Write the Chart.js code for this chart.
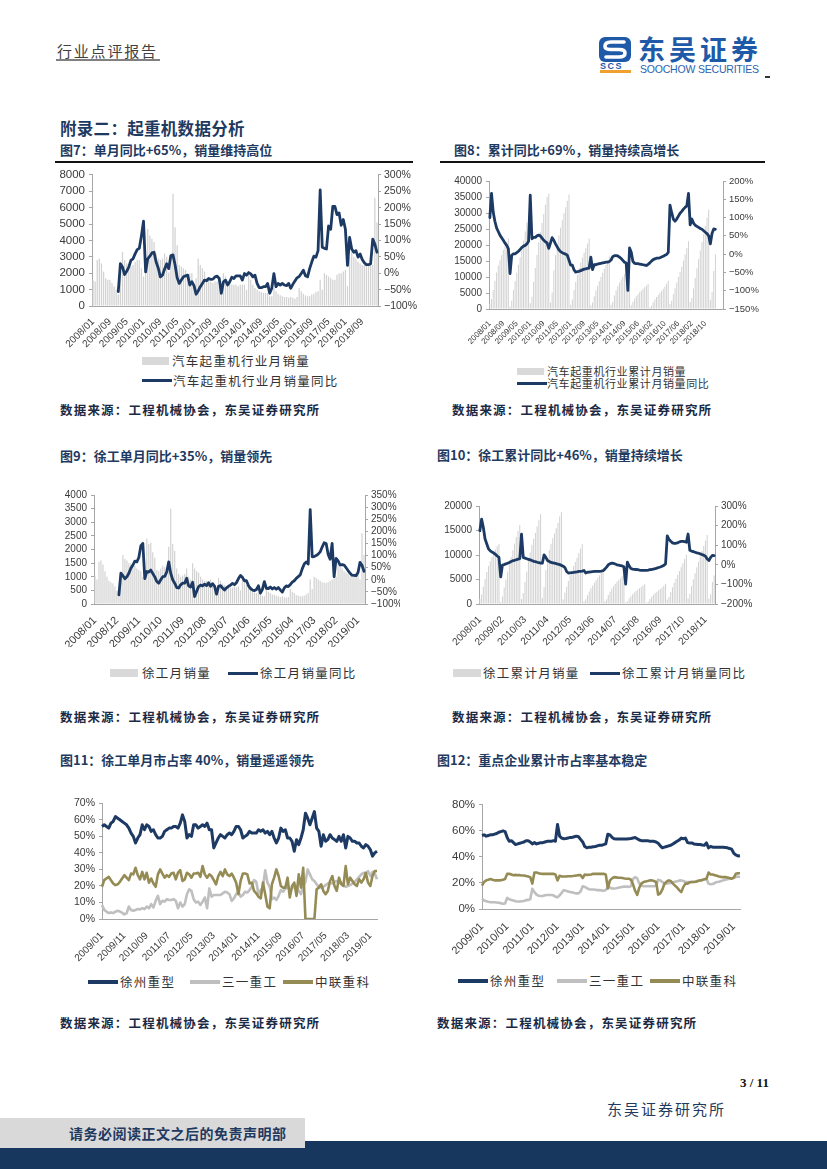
<!DOCTYPE html>
<html><head><meta charset="utf-8">
<script src="https://cdn.jsdelivr.net/npm/chart.js@4.4.1/dist/chart.umd.min.js"></script>
<style>
body{margin:0;background:#fff;}
#page{position:relative;width:827px;height:1169px;overflow:hidden;font-family:"Noto Sans CJK SC",sans-serif;background:#fff;}
.abs{position:absolute;white-space:nowrap;}
.ftitle{font-size:13px;font-weight:700;color:#1f3a60;line-height:16px;}
.src{font-size:12.5px;font-weight:700;color:#1b2a44;line-height:16px;letter-spacing:1.2px;}
.leg{font-size:12.5px;color:#333;line-height:16px;letter-spacing:1.3px;}
.leg8{font-size:11px;color:#333;line-height:14px;letter-spacing:0.6px;}
.swb{position:absolute;background:#d9d9d9;}
.swl{position:absolute;height:3px;}
canvas{position:absolute;}
</style></head>
<body><div id="page">

<div class="abs" style="left:57px;top:41px;font-size:15px;color:#404040;letter-spacing:1.8px;line-height:20px;">行业点评报告</div>
<div class="abs" style="left:56px;top:59px;width:104px;height:2px;background:#808080;"></div>

<svg class="abs" style="left:599px;top:37px" width="32" height="25" viewBox="0 0 32 25">
<rect x="0" y="0" width="32" height="25" rx="6" fill="#1e5aa8"/>
<path d="M25 5 H12 Q6 5 6 9.5 Q6 12.5 12 12.5 H20 Q26 12.5 26 16 Q26 20 20 20 H7" stroke="#fff" stroke-width="3.6" fill="none" stroke-linecap="round"/>
</svg>
<div class="abs" style="left:600px;top:61px;font:bold 9px 'Liberation Sans',Arial,sans-serif;color:#1e5aa8;letter-spacing:1.5px;line-height:10px;">SCS</div>
<div class="abs" style="left:600px;top:70px;width:31px;height:3px;background:#f0a030;"></div>
<div class="abs" style="left:638px;top:33px;font-size:27px;font-weight:700;color:#1e5aa8;letter-spacing:4px;line-height:32px;">东吴证券</div>
<div class="abs" style="left:640px;top:63px;font:10.5px 'Liberation Sans',Arial,sans-serif;color:#2b63ad;letter-spacing:-0.2px;line-height:12px;">SOOCHOW SECURITIES</div>
<div class="abs" style="left:765px;top:76px;width:5px;height:1.5px;background:#333;"></div>

<div class="abs" style="left:60px;top:117px;font-size:16.5px;font-weight:700;color:#1f3a60;line-height:22px;letter-spacing:0.3px;">附录二：起重机数据分析</div>

<div class="abs ftitle" style="left:60px;top:142px;">图7：单月同比+65%，销量维持高位</div>
<div class="abs ftitle" style="left:454px;top:142px;">图8：累计同比+69%，销量持续高增长</div>
<div class="abs" style="left:55px;top:161px;width:358px;height:2px;background:#111;"></div>
<div class="abs" style="left:440px;top:161px;width:325px;height:2px;background:#111;"></div>

<canvas id="c7" width="382" height="186" style="left:40px;top:164px;"></canvas>
<canvas id="c8" width="330" height="176" style="left:440px;top:171px;"></canvas>

<div class="swb" style="left:142px;top:357px;width:27px;height:8px;"></div>
<div class="abs leg" style="left:172px;top:353px;">汽车起重机行业月销量</div>
<div class="swl" style="left:142px;top:379px;width:30px;background:#1c3a63;"></div>
<div class="abs leg" style="left:173px;top:373px;">汽车起重机行业月销量同比</div>

<div class="swb" style="left:517px;top:368px;width:27px;height:7px;"></div>
<div class="abs leg8" style="left:547px;top:364px;">汽车起重机行业累计月销量</div>
<div class="swl" style="left:517px;top:382px;width:30px;background:#1c3a63;"></div>
<div class="abs leg8" style="left:547px;top:376px;">汽车起重机行业累计月销量同比</div>

<div class="abs src" style="left:60px;top:402px;">数据来源：工程机械协会，东吴证券研究所</div>
<div class="abs src" style="left:452px;top:402px;">数据来源：工程机械协会，东吴证券研究所</div>

<div class="abs ftitle" style="left:60px;top:448px;">图9：徐工单月同比+35%，销量领先</div>
<div class="abs ftitle" style="left:437px;top:447px;">图10：徐工累计同比+46%，销量持续增长</div>

<canvas id="c9" width="360" height="162" style="left:40px;top:485px;"></canvas>
<canvas id="c10" width="345" height="152" style="left:425px;top:496px;"></canvas>

<div class="swb" style="left:110px;top:669px;width:28px;height:8px;"></div>
<div class="abs leg" style="left:142px;top:665px;">徐工月销量</div>
<div class="swl" style="left:228px;top:672px;width:30px;background:#1c3a63;"></div>
<div class="abs leg" style="left:260px;top:665px;">徐工月销量同比</div>

<div class="swb" style="left:453px;top:669px;width:28px;height:8px;"></div>
<div class="abs leg" style="left:483px;top:665px;">徐工累计月销量</div>
<div class="swl" style="left:590px;top:672px;width:30px;background:#1c3a63;"></div>
<div class="abs leg" style="left:622px;top:665px;">徐工累计月销量同比</div>

<div class="abs src" style="left:60px;top:709px;">数据来源：工程机械协会，东吴证券研究所</div>
<div class="abs src" style="left:452px;top:709px;">数据来源：工程机械协会，东吴证券研究所</div>

<div class="abs ftitle" style="left:60px;top:752px;">图11：徐工单月市占率 40%，销量遥遥领先</div>
<div class="abs ftitle" style="left:437px;top:752px;">图12：重点企业累计市占率基本稳定</div>

<canvas id="c11" width="345" height="170" style="left:40px;top:793px;"></canvas>
<canvas id="c12" width="320" height="160" style="left:430px;top:794px;"></canvas>

<div class="swl" style="left:88px;top:980px;width:30px;height:3.5px;background:#1c3a63;"></div>
<div class="abs leg" style="left:120px;top:974px;">徐州重型</div>
<div class="swl" style="left:190px;top:980px;width:30px;height:3.5px;background:#bfbfbf;"></div>
<div class="abs leg" style="left:222px;top:974px;">三一重工</div>
<div class="swl" style="left:283px;top:980px;width:30px;height:3.5px;background:#958b55;"></div>
<div class="abs leg" style="left:315px;top:974px;">中联重科</div>

<div class="swl" style="left:458px;top:979px;width:30px;height:3.5px;background:#1c3a63;"></div>
<div class="abs leg" style="left:490px;top:973px;">徐州重型</div>
<div class="swl" style="left:557px;top:979px;width:30px;height:3.5px;background:#bfbfbf;"></div>
<div class="abs leg" style="left:589px;top:973px;">三一重工</div>
<div class="swl" style="left:650px;top:979px;width:30px;height:3.5px;background:#958b55;"></div>
<div class="abs leg" style="left:682px;top:973px;">中联重科</div>

<div class="abs src" style="left:60px;top:1015px;">数据来源：工程机械协会，东吴证券研究所</div>
<div class="abs src" style="left:437px;top:1015px;">数据来源：工程机械协会，东吴证券研究所</div>

<div class="abs" style="left:740px;top:1075px;font:bold 13px 'Liberation Serif',serif;color:#111;line-height:16px;">3 / 11</div>
<div class="abs" style="left:607px;top:1099px;font-size:15px;color:#1f3a60;letter-spacing:2px;line-height:20px;">东吴证券研究所</div>
<div class="abs" style="left:0;top:1141px;width:827px;height:28px;background:#17375e;"></div>
<div class="abs" style="left:0;top:1118px;width:305px;height:30px;background:#d9d9d9;"></div>
<div class="abs" style="left:69px;top:1124px;font-size:14px;font-weight:700;color:#1f3a60;letter-spacing:0.5px;line-height:18px;">请务必阅读正文之后的免责声明部</div>

</div>
<script>
// ---------- DATA ----------
// Fig 7: monthly truck-crane sales (2008/01 - 2019/04) and YoY % (from 2009/01)
const C7_SALES = [
 1600,1500,2800,2900,2600,2100,1700,1600,1600,1400,1200,1000,
 700,1900,3300,2800,2600,2500,2400,2500,2700,2800,2800,2300,
 1800,2000,4700,4300,4100,3900,3200,2900,2800,2900,3200,3000,
 2050,3100,6850,4800,3700,2500,2400,2300,2200,1900,2000,2000,
 1300,1700,2900,2500,2300,2100,1700,1600,1500,1400,1500,1500,
 1200,800,2000,1800,1500,1400,1300,1300,1300,1200,1300,1300,
 1300,1000,1900,1600,1300,1100,1000,900,850,800,800,800,
 600,600,1100,900,750,650,600,550,550,500,550,500,
 450,550,1100,900,750,650,600,600,700,750,850,900,
 1600,1000,2000,1900,1800,1700,1600,1600,1900,2000,2000,2100,
 2200,1200,3000,3300,3000,2900,2700,2600,2500,2500,2600,2600,
 2800,2500,6600,5100];
const C7_YOY = [
 -56,29,19,-4,6,19,39,44,59,72,76,114,
 159,4,44,52,62,64,34,16,-11,-6,12,29,
 14,54,56,26,-14,-31,-21,-11,-8,-6,-36,-26,
 -38,-64,-54,-41,-31,-21,-23,-16,-19,-18,-11,-9,
 -16,-61,-26,-21,-36,-26,-12,-16,-8,-8,-8,-21,
 -1,-6,2,-2,-11,-6,-31,-44,-44,-41,-41,-31,
 -61,-46,-1,-41,-31,-36,-31,-36,-38,-31,-46,-34,
 -24,-14,-10,-1,9,-8,-11,14,34,52,49,69,
 254,79,76,74,144,134,204,204,179,184,146,164,
 134,24,109,74,64,69,49,59,42,32,26,26,
 29,104,89,64];

// Fig 8: cumulative truck-crane sales and cumulative YoY % (2015/01 not reported)
const C8_CUM = [
 1600,3100,5900,8800,11400,13500,15200,16800,18400,19800,21000,22000,
 700,2600,5900,8700,11300,13800,16200,18700,21400,24200,27000,29300,
 1800,3800,8500,12800,16900,20800,24000,26900,29700,32600,35000,36000,
 2050,5150,12000,16800,20500,23000,25400,27700,29900,31800,33800,35800,
 1300,3000,5900,8400,10700,12800,14500,16100,17600,19000,20500,22000,
 1200,2000,4000,5800,7300,8700,10000,11300,12600,13800,15100,16400,
 1300,2300,4200,5800,7100,8200,9200,10100,10950,11750,12550,13350,
 1200,2300,3200,3950,4600,5200,5750,6300,6800,7350,7850,
 450,1000,2100,3000,3750,4400,5000,5600,6300,7050,7900,8800,
 1600,2600,4600,6500,8300,10000,11600,13200,15100,17100,19100,21200,
 2200,3400,6400,9700,12700,15600,18300,20900,23400,25900,28500,31100,
 2800,5300,11900,17000];
const C8_YOY = [
 100,166,115,90,72,62,52,45,38,30,24,15,
 -53,-3,1,1,4,8,13,18,22,24,28,35,
 161,42,46,46,50,52,50,44,38,34,31,16,
 30,45,38,28,20,12,7,4,2,0,-3,-16,
 -30,-30,-43,-49,-48,-47,-45,-43,-41,-40,-39,-38,
 -8,-42,-29,-29,-27,-26,-25,-24,-23,-22,-22,-20,
 -16,-7,-4,-4,-5,-8,-12,-17,-22,-24,-99,17,
 5,-20,-25,-26,-26,-27,-28,-29,-30,-31,-28,-24,
 -19,-15,-13,-11,-11,-10,-8,-6,-3,-1,5,134,
 114,96,90,96,104,112,117,123,128,132,166,80,
 96,85,79,76,73,70,68,64,60,56,50,28,
 57,69,68];

// Fig 9: XCMG monthly sales and YoY % (from 2009/01)
const C9_SALES = [
 1050,900,1550,1600,1450,1200,1000,850,800,750,650,500,
 400,1150,1800,1650,1600,1500,1500,1350,1400,1300,1250,1200,
 1000,1200,2400,2200,2250,1900,1700,1250,1200,1300,1400,1350,
 1300,2100,3500,2200,1950,1300,1100,1000,1050,1100,1300,1000,
 900,1500,1300,1200,1150,1000,900,850,850,800,900,800,
 650,450,950,850,750,700,650,600,600,600,650,600,
 650,500,950,800,700,600,550,480,430,400,430,400,
 300,280,550,450,400,350,330,300,280,250,280,250,
 230,260,550,450,400,330,300,280,280,300,350,400,
 900,550,1000,950,900,850,800,780,780,800,850,900,
 1100,1000,1500,1400,1300,1200,1150,1100,1050,1050,1100,1150,
 1100,900,2600,1800];
const C9_YOY = [
 -62,27,17,4,12,27,48,60,77,74,92,140,
 150,5,34,32,40,26,12,-7,-14,0,13,14,
 32,74,27,0,-14,-32,-34,-21,-14,-14,6,-25,
 -30,-10,-69,-48,-28,-22,-25,-18,-24,-12,-27,-16,
 -26,-59,-27,-24,-34,-42,-33,-27,-22,-15,-20,-12,
 5,18,10,-4,-4,-24,-36,-42,-45,-40,-25,-55,
 -40,-8,-35,-36,-30,-38,-32,-39,-32,-42,-51,-34,
 -25,-28,-20,-10,-4,6,13,20,45,65,73,65,
 290,95,96,100,106,115,135,153,150,105,85,150,
 13,88,78,61,63,61,50,38,27,19,18,17,
 30,72,60,35];

// Fig 10: XCMG cumulative sales and cumulative YoY %
const C10_CUM = [
 1050,1950,3500,5100,6550,7750,8750,9600,10400,11150,11800,12300,
 400,1550,3350,5000,6600,8100,9600,10950,12350,13650,14900,16100,
 1000,2200,4500,6600,8700,10500,12100,13300,14500,15800,17100,18300,
 1300,3400,6900,9100,11000,12300,13400,14400,15450,16550,17850,18800,
 900,2300,3500,4700,5800,6800,7700,8550,9400,10400,11300,12200,
 550,950,1800,2550,3200,3800,4350,4850,5350,5850,6400,6900,
 550,970,1820,2520,3120,3640,4120,4540,4920,5270,5650,6000,
 300,580,1130,1580,1980,2330,2660,2960,3240,3490,3770,4020,
 230,490,1040,1490,1890,2220,2520,2800,3080,3380,3730,4130,
 900,1450,2450,3400,4300,5150,5950,6730,7510,8310,9160,10060,
 1100,2100,3600,5000,6300,7500,8650,9750,10800,11850,12950,14100,
 1100,2000,4500,5800];
const C10_YOY = [
 174,233,190,132,106,81,71,65,60,53,45,38,
 -62,-1,1,5,8,12,17,21,23,26,29,31,
 157,38,34,31,28,25,22,18,16,13,11,9,
 8,51,38,22,17,12,10,8,6,3,1,-3,
 -7,-14,-34,-42,-41,-40,-39,-37,-36,-34,-33,-32,
 -29,-42,-38,-37,-36,-35,-34,-34,-34,-33,-32,-30,
 -22,-12,0,5,9,7,4,0,-2,-4,-6,-10,
 -99,14,-5,-19,-22,-23,-24,-25,-27,-28,-28,-28,
 -28,-27,-25,-24,-22,-20,-17,-14,-11,-7,-3,4,
 148,130,120,112,109,110,112,117,119,120,118,115,
 157,74,70,67,64,61,59,56,52,49,44,30,
 22,38,48,47];

// Fig 11: monthly market share % (2009/01 - 2019/04)
const C11_XCMG = [
 56,57,56,55,58,59,62,61,60,59,58,57,
 55,52,50,46,49,51,57,54,57,56,53,54,
 51,49,49,50,53,54,55,55,56,56,55,58,
 63,59,49,51,50,57,57,55,56,57,56,58,
 54,54,43,46,49,51,50,49,51,52,51,53,
 56,56,54,49,50,51,53,52,52,52,54,53,
 54,52,53,51,53,49,46,49,55,53,54,49,
 49,47,41,48,45,49,54,64,61,57,61,65,
 55,53,44,51,47,48,51,49,48,47,50,47,
 51,43,50,49,47,47,46,46,44,43,45,44,
 42,38,40,41];
const C11_SANY = [
 8.5,5.5,4.5,3.6,4,3.6,4.4,5,4.5,3.8,2.8,3.5,
 7.5,5.5,5,5.5,6,5.8,6.5,6,7.5,6.5,9,7,
 11,14,9,11,10.5,12,11.5,11.5,12,11,6.5,10,
 7.5,9,15,18,17,12,10,10.5,8.5,10.5,13,6.5,
 18.5,13.5,14.5,14.5,14.5,14.5,15.5,16.5,16,15,11,12.5,
 15,16.5,13.5,14.5,16.5,16,17.5,19.5,23.5,22.5,15,17.5,
 19,29.5,22,19.5,12,13,11.5,14,17.5,16.5,18.5,19,
 17.5,18.5,20,20,17,15,20,22.5,30,27,24,23,
 21,19.5,19,19.5,20.5,21.5,22,21.5,22.5,23,22,22,
 20.5,19.5,20,20.5,21.5,22.5,24,25.5,27,28,27.5,29,
 26,28.5,27.5,24];
const C11_ZOOM = [
 19.5,23.5,24.5,25.5,23.5,21.5,20.5,21,22.5,24.5,26.5,25,
 23.5,27.5,27,31,26.5,24,28.5,24,28,22,24.5,21.5,
 19.5,27,30,27.5,25,26.5,25.5,27.5,28,24,28,29.5,
 23,24,28,27,25,27.5,27.5,28,25.5,32,27,25,
 27,26,23.5,21,26,28.5,26,30,27,26,27.5,25,
 22,15,23,27.5,27.5,27,21.5,22,17,15.5,13.5,12.5,
 22,15,7.5,6.5,21,25,30,26,20,19,19,25,
 13,20,22,14,27,19,31,0,0,0,0,0,
 18,19,21,17,15,17,23,26,20,17,25,21,
 20,32,21,25,23,21,20,24,22,24,28,22,
 20,26,29,29];

// Fig 12: cumulative market share %
const C12_XCMG = [
 56.5,57,56,56.5,57,57,57.5,58,59,59.5,60,59.5,
 55,52,52.5,51,49.5,50,50.5,51,51.5,52.5,52.5,51.5,
 50,51,50,50.5,51,51,51.5,52,52,52,52.5,52,
 65,56,54.5,54,54.2,54.5,55,55,55.5,56,55.5,53.5,
 51.5,48,47,47.5,47.5,47.8,48,48.5,49,49,49.5,50,
 57.5,57,55,54,53.8,53.8,53.8,53.8,53.8,53.8,54,54.2,
 54.5,55,54,53,52.5,52.5,52.5,52.5,52,52,52,51.5,
 50.5,48.5,47,47.5,48,48.5,49,50,51,52,53,54.5,
 54,54.5,51,50.8,50.8,50,49.8,49.5,49.5,49.2,49,50.8,
 47,48,47.5,47.5,47.5,47.5,47.5,47.5,47.3,47,46.5,46,
 43,41.5,40.8,41];
const C12_SANY = [
 8,6.5,6,5.5,5.2,5.2,5.2,5,4.8,4.5,4,4.2,
 8.5,7.5,7,6.5,6,5.8,5.8,6,6.2,6.8,7,7.5,
 15.5,13,11,10.2,10,10,10.5,10.8,10.8,10.8,10.5,9.5,
 9,10.5,12.5,14.5,14,13.5,13,12.8,12.3,12,12,13.5,
 17.5,17,16,15.2,15,15,14.8,14.5,14.5,14.3,14,14.5,
 17,16.5,15.8,15.8,16,16.3,16.8,17,17.3,17.2,17,17.5,
 23,24.5,23.5,19.5,18,17.5,17.5,17.5,17.5,17.5,17.5,18,
 22.5,22,20.8,19.5,19.5,19.8,20,20.5,21,21.3,21.8,22,
 21.5,20.8,20.8,20.8,20.8,21,21.3,21.8,22,22.3,22.8,23.2,
 19.5,19,19.2,20,20.8,21,21.5,22,22.5,22.8,23.2,23.5,
 24,24.5,25,24.5];
const C12_ZOOM = [
 18,20.8,22,22.5,23,22.5,22,22,22,22.2,22.5,23,
 27,27,26.5,26,26.2,26,26,25.8,25.8,25.3,25,24.5,
 19.5,28,28,27.5,27.2,27,27,27,27,27,27,26.5,
 22,25.5,25,25,25,25.2,25.2,25.3,25.5,25.8,26,26,
 23.8,26.5,26.2,26.3,26.5,27,27,27,27,27,27,26.5,
 15.8,22,23.5,24.5,24.3,24,24,23.8,23.5,23.3,23.3,22.5,
 19,14,10.8,16.5,19.5,20.8,21.2,21.5,22,22,21.5,20.8,
 11,12,15,19.5,21,22,21.5,19.5,18,16.5,14.5,13,
 17,19.5,19.5,20.5,20.8,20.8,21,21.5,22,22.2,22.8,23.2,
 28,26.5,26.5,26,25.5,25,24.7,24.5,24.5,24.2,23.8,23.3,
 24,27,27.5,27.5];

// ---------- CATEGORIES ----------
function months(a, b, skip) {
  skip = skip || [];
  let [y, m] = a.split('/').map(Number);
  const [ye, me] = b.split('/').map(Number);
  const out = [];
  while (y < ye || (y === ye && m <= me)) {
    const s = y + '/' + String(m).padStart(2, '0');
    if (!skip.includes(s)) out.push(s);
    m++; if (m > 12) { m = 1; y++; }
  }
  return out;
}
const C7_LABELS = months('2008/01', '2019/04');
const C8_LABELS = months('2008/01', '2019/04', ['2015/01']).concat(['', '', '', '']);
const C9_LABELS = months('2008/01', '2019/04');
const C10_LABELS = months('2008/01', '2019/04');
const C11_LABELS = months('2009/01', '2019/04');
const C12_LABELS = months('2009/01', '2019/04');

// ---------- STYLE ----------
const NAVY = '#1c3a63', BAR = '#d2d2d2', GRAYL = '#bfbfbf', OLIVE = '#958b55', AX = '#a6a6a6', TXT = '#3a3a3a';
Chart.defaults.font.family = "'Liberation Sans', Arial, sans-serif";
Chart.defaults.color = TXT;
const pct = v => (v < 0 ? '\u2212' + Math.abs(v) : v) + '%';

function dual(id, o) {
  const yoy = o.lead ? Array(o.lead).fill(null).concat(o.line) : o.line;
  new Chart(document.getElementById(id), {
    type: 'bar',
    data: { labels: o.labels, datasets: [
      { type: 'line', data: yoy, yAxisID: 'y1', borderColor: NAVY, borderWidth: 2.8, pointRadius: 0, tension: 0, order: 0, borderJoinStyle: 'round', borderCapStyle: 'round' },
      { type: 'bar', data: o.bars, yAxisID: 'y', backgroundColor: BAR, barPercentage: 0.6, categoryPercentage: 1, order: 1 }
    ]},
    options: {
      responsive: false, animation: false, events: [],
      layout: { padding: { top: o.top, left: 0, right: 0, bottom: 0 } },
      plugins: { legend: { display: false }, tooltip: { enabled: false } },
      scales: {
        x: { grid: { display: false }, border: { display: true, color: AX },
             ticks: { autoSkip: false, minRotation: 45, maxRotation: 45, padding: 2, font: { size: o.fx }, color: TXT,
                      callback: (v, i) => (i % o.every === 0 && o.labels[i]) ? o.labels[i] : null },
             afterFit: s => { s.height = o.bh; } },
        y: { position: 'left', min: o.lmin, max: o.lmax,
             ticks: { autoSkip: false, stepSize: o.lstep, padding: 4, font: { size: o.fy }, color: TXT, callback: v => String(v) },
             grid: { drawOnChartArea: false, drawTicks: true, tickLength: 3, color: AX },
             border: { display: true, color: AX },
             afterFit: s => { s.width = o.lw; } },
        y1: { position: 'right', min: o.rmin, max: o.rmax,
             ticks: { autoSkip: false, stepSize: o.rstep, padding: 3, font: { size: o.fr }, color: TXT, callback: pct },
             grid: { drawOnChartArea: false, drawTicks: true, tickLength: 3, color: AX },
             border: { display: true, color: AX },
             afterFit: s => { s.width = o.rw; } }
      }
    }
  });
}

function share(id, o) {
  new Chart(document.getElementById(id), {
    type: 'line',
    data: { labels: o.labels, datasets: [
      { data: o.a, borderColor: NAVY, borderWidth: 3, pointRadius: 0, tension: 0, order: 2, borderJoinStyle: 'round' },
      { data: o.b, borderColor: GRAYL, borderWidth: 2.6, pointRadius: 0, tension: 0, order: 1, borderJoinStyle: 'round' },
      { data: o.c, borderColor: OLIVE, borderWidth: 2.6, pointRadius: 0, tension: 0, order: 0, borderJoinStyle: 'round' }
    ]},
    options: {
      responsive: false, animation: false, events: [],
      layout: { padding: { top: o.top, left: 0, right: o.pr, bottom: 0 } },
      plugins: { legend: { display: false }, tooltip: { enabled: false } },
      scales: {
        x: { offset: false, grid: { display: false }, border: { display: true, color: AX },
             ticks: { autoSkip: false, minRotation: 45, maxRotation: 45, padding: 3, font: { size: o.fx }, color: TXT,
                      callback: (v, i) => (i % o.every === 0) ? o.labels[i] : null },
             afterFit: s => { s.height = o.bh; } },
        y: { min: 0, max: o.max,
             ticks: { autoSkip: false, stepSize: o.step, padding: 4, font: { size: o.fy }, color: TXT, callback: v => v + '%' },
             grid: { drawOnChartArea: false, drawTicks: true, tickLength: 3, color: AX },
             border: { display: true, color: AX },
             afterFit: s => { s.width = o.lw; } }
      }
    }
  });
}

dual('c7', { labels: C7_LABELS, bars: C7_SALES, line: C7_YOY, lead: 12, every: 8,
  lmin: 0, lmax: 8000, lstep: 1000, rmin: -100, rmax: 300, rstep: 50,
  lw: 52, rw: 44, bh: 44, top: 8, fx: 10, fy: 11.5, fr: 10.5 });
dual('c8', { labels: C8_LABELS, bars: C8_CUM, line: C8_YOY, lead: 0, every: 8,
  lmin: 0, lmax: 40000, lstep: 5000, rmin: -150, rmax: 200, rstep: 50,
  lw: 49, rw: 47, bh: 38, top: 9, fx: 8, fy: 10, fr: 9.5 });
dual('c9', { labels: C9_LABELS, bars: C9_SALES, line: C9_YOY, lead: 12, every: 11,
  lmin: 0, lmax: 4000, lstep: 500, rmin: -100, rmax: 350, rstep: 50,
  lw: 54, rw: 35, bh: 43, top: 9, fx: 11, fy: 10, fr: 10 });
dual('c10', { labels: C10_LABELS, bars: C10_CUM, line: C10_YOY, lead: 0, every: 13,
  lmin: 0, lmax: 20000, lstep: 5000, rmin: -200, rmax: 300, rstep: 100,
  lw: 54, rw: 55, bh: 44, top: 9, fx: 10, fy: 10, fr: 10 });
share('c11', { labels: C11_LABELS, a: C11_XCMG, b: C11_SANY, c: C11_ZOOM, every: 10,
  max: 70, step: 10, lw: 62, pr: 8, bh: 44, top: 9, fx: 10, fy: 10.5 });
share('c12', { labels: C12_LABELS, a: C12_XCMG, b: C12_SANY, c: C12_ZOOM, every: 12,
  max: 80, step: 20, lw: 52, pr: 10, bh: 45, top: 9, fx: 11, fy: 11.5 });
</script>
</body></html>
